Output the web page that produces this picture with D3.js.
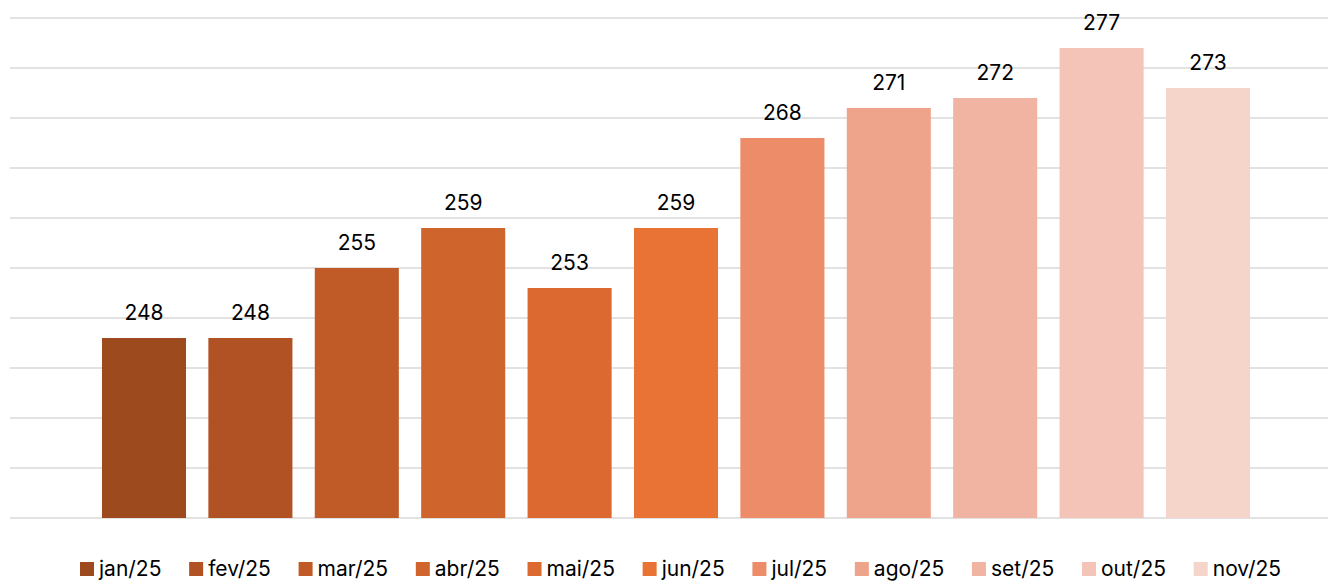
<!DOCTYPE html>
<html>
<head>
<meta charset="utf-8">
<script src="https://cdn.jsdelivr.net/npm/d3@7"></script>
<style>
  html, body { margin: 0; padding: 0; background: #fff; }
  svg text { font-family: 'Inter', 'Liberation Sans', sans-serif; }
</style>
</head>
<body>
<div id="chart"></div>
<script>
// Monthly values, Jan-Nov 2025
const months = ["jan/25", "fev/25", "mar/25", "abr/25", "mai/25", "jun/25", "jul/25", "ago/25", "set/25", "out/25", "nov/25"];
const values = [248, 248, 255, 259, 253, 259, 268, 271, 272, 277, 273];
const barColors = ["#9E4A1F", "#B05223", "#C05B28", "#D0642D", "#DC6A30", "#E97334",
                   "#EC8C69", "#EEA38B", "#F1B3A2", "#F3C4B7", "#F5D4CA"];
const yTicks = [230, 235, 240, 245, 250, 255, 260, 265, 270, 275, 280];

const width = 1328, height = 581;

const svg = d3.select("#chart").append("svg")
    .attr("width", width)
    .attr("height", height);

const x = d3.scaleBand()
    .domain(months)
    .range([90.8, 1261.2])
    .paddingInner(0.21)
    .paddingOuter(0.105);

const y = d3.scaleLinear()
    .domain([230, 280])
    .range([518, 18]);

// Gridlines
svg.append("g")
    .selectAll("line")
    .data(yTicks)
    .enter()
    .append("line")
    .attr("x1", 10)
    .attr("x2", 1328)
    .attr("y1", d => y(d))
    .attr("y2", d => y(d))
    .attr("stroke", "#d9d9d9")
    .attr("stroke-width", 1.5);

// Bars
svg.append("g")
    .selectAll("rect")
    .data(values)
    .enter()
    .append("rect")
    .attr("x", (d, i) => x(months[i]))
    .attr("y", d => y(d))
    .attr("width", x.bandwidth())
    .attr("height", d => y(230) - y(d))
    .attr("fill", (d, i) => barColors[i]);

// Value labels
svg.append("g")
    .selectAll("text")
    .data(values)
    .enter()
    .append("text")
    .attr("x", (d, i) => x(months[i]) + x.bandwidth() / 2)
    .attr("y", d => y(d) - 18)
    .attr("text-anchor", "middle")
    .attr("fill", "#000")
    .style("font-size", "21px")
    .text(d => d);

// Legend
const legend = svg.append("g");
let lx = 80;
months.forEach((m, i) => {
    const item = legend.append("g").attr("transform", `translate(${lx}, 562)`);
    item.append("rect")
        .attr("width", 14)
        .attr("height", 14)
        .attr("fill", barColors[i]);
    const t = item.append("text")
        .attr("x", 19)
        .attr("y", 14)
        .attr("fill", "#000")
        .style("font-size", "21px")
        .text(m);
    lx += 19 + t.node().getComputedTextLength() + 27.7;
});
</script>
</body>
</html>
